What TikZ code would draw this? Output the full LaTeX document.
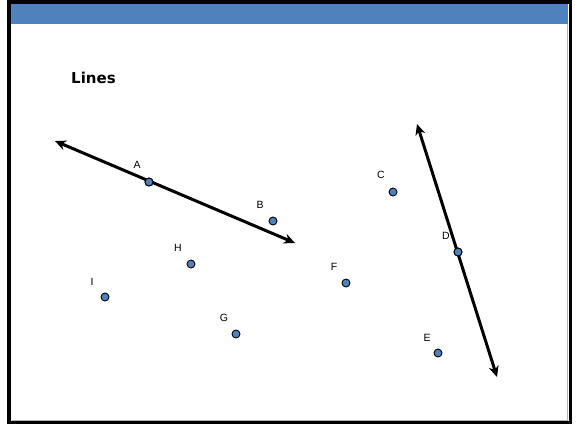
\documentclass[tikz,border=0pt]{standalone}
\usepackage{fontspec}
\setmainfont{Liberation Sans}
\newfontfamily\titlefont{DejaVu Sans}
\usetikzlibrary{arrows.meta}
\definecolor{hdrblue}{HTML}{4F81BD}
\begin{document}
\begin{tikzpicture}[x=1pt,y=-1pt,
  pt/.style={circle,draw=black,fill=hdrblue,line width=0.9pt,inner sep=0pt,minimum size=8pt},
  lbl/.style={font=\fontsize{10.5}{12}\selectfont,inner sep=0pt},
  gline/.style={line width=3pt,{Stealth[length=11pt,width=10pt]}-{Stealth[length=11pt,width=10pt]}}]
\useasboundingbox (0,0) rectangle (577,424);
\fill[white] (0,0) rectangle (577,424);
\fill[hdrblue] (10,3) rectangle (568,24);
\draw[gray!60,line width=1pt] (12,420) -- (567,420) -- (567,24);
\draw[black,line width=3.5pt] (8.75,1.75) rectangle (570.25,422.25);
\node[anchor=west,font=\titlefont\bfseries\fontsize{15}{17}\selectfont,inner sep=0pt] (title) at (71,78) {Lines};
% points
\node[pt] (A) at (149,182) {};
\node[pt] (B) at (273,221) {};
\node[pt] (C) at (393,192) {};
\node[pt] (D) at (458,252) {};
\node[pt] (E) at (438,353) {};
\node[pt] (F) at (346,283) {};
\node[pt] (G) at (236,334) {};
\node[pt] (H) at (191,264) {};
\node[pt] (I) at (105,297) {};
% labels
\node[lbl] (lA) at (137,165) {A};
\node[lbl] (lB) at (260,205) {B};
\node[lbl] (lC) at (381,175) {C};
\node[lbl] (lD) at (446,236) {D};
\node[lbl] (lE) at (427,338) {E};
\node[lbl] (lF) at (334,267) {F};
\node[lbl] (lG) at (224,318) {G};
\node[lbl] (lH) at (178,248) {H};
\node[lbl] (lI) at (92,282) {I};
% lines
\coordinate (L1a) at (55,141);
\coordinate (L1b) at (295,243);
\coordinate (L2a) at (417,124);
\coordinate (L2b) at (497,377);
\draw[gline] (L1a) -- (L1b);
\draw[gline] (L2a) -- (L2b);
\node[pt] at (A) {};
\node[pt] at (D) {};
\end{tikzpicture}
\end{document}
